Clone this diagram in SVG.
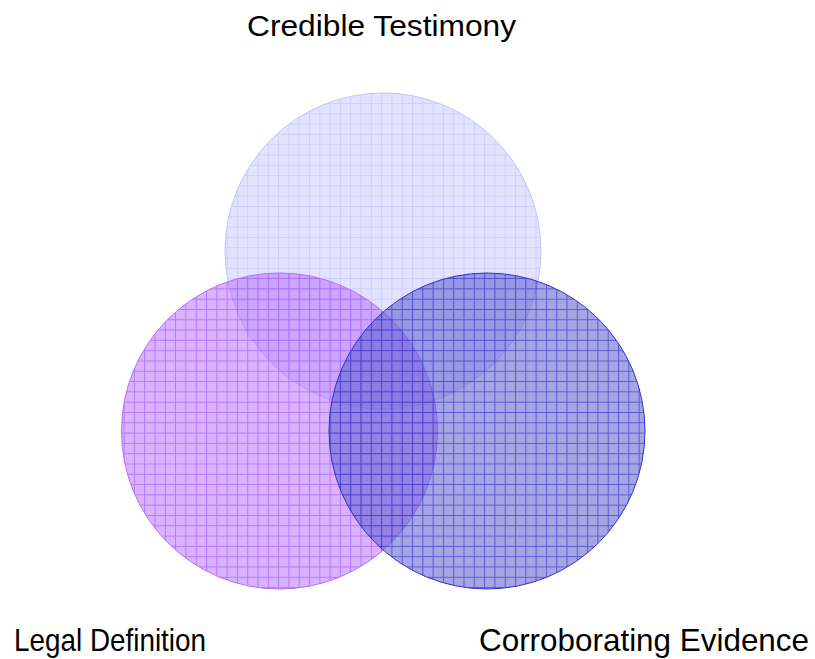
<svg xmlns="http://www.w3.org/2000/svg" width="815" height="659" viewBox="0 0 815 659">
<style>
.lbl{font-family:"Liberation Sans",Arial,Helvetica,sans-serif;font-size:30px;fill:#000}
.big{font-size:32px}
</style>
<defs>
<pattern id="pTop" patternUnits="userSpaceOnUse" width="10.3" height="10.3" x="0" y="0">
<rect width="10.3" height="10.3" fill="#c8c8ff" fill-opacity="0.5"/>
<path d="M0 0.5H10.3M0.5 0V10.3" stroke="#b4b4ff" stroke-opacity="0.45" stroke-width="1"/>
</pattern>
<pattern id="pLeft" patternUnits="userSpaceOnUse" width="10.3" height="10.3" x="0" y="0">
<rect width="10.3" height="10.3" fill="#b468ff" fill-opacity="0.5"/>
<path d="M0 0.5H10.3M0.5 0V10.3" stroke="#9848f0" stroke-opacity="0.55" stroke-width="1"/>
</pattern>
<pattern id="pRight" patternUnits="userSpaceOnUse" width="10.3" height="10.3" x="0" y="0">
<rect width="10.3" height="10.3" fill="#5a5ad0" fill-opacity="0.55"/>
<path d="M0 0.5H10.3M0.5 0V10.3" stroke="#2828c0" stroke-opacity="0.6" stroke-width="1"/>
</pattern>
</defs>
<g id="credible-testimony">
<circle cx="383" cy="251" r="158" fill="url(#pTop)" stroke="#c4c4ff" stroke-width="1"/>
<text class="lbl" x="247" y="36" textLength="269" lengthAdjust="spacingAndGlyphs">Credible Testimony</text>
</g>
<g id="legal-definition">
<circle cx="279.5" cy="431" r="158" fill="url(#pLeft)" stroke="#b070ff" stroke-width="1"/>
<text class="lbl big" x="14" y="651" textLength="192" lengthAdjust="spacingAndGlyphs">Legal Definition</text>
</g>
<g id="corroborating-evidence">
<circle cx="487" cy="431" r="158" fill="url(#pRight)" stroke="#3030c8" stroke-width="1"/>
<text class="lbl big" x="479" y="651" textLength="330" lengthAdjust="spacingAndGlyphs">Corroborating Evidence</text>
</g>
<g id="connectors"/>
</svg>
